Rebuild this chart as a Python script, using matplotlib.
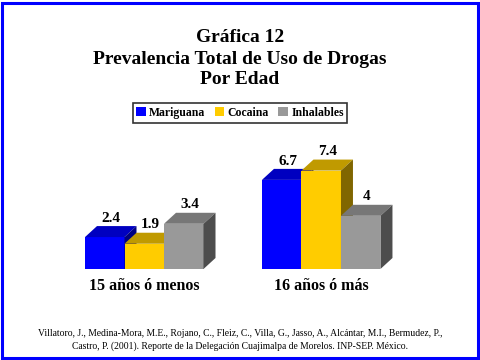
import matplotlib
matplotlib.use("Agg")
import matplotlib.pyplot as plt
from matplotlib.patches import Polygon, Rectangle, Patch

# -- Data ----------------------------------------------------------------------
groups = ["15 años ó menos", "16 años ó más"]
drugs = ["Mariguana", "Cocaina", "Inhalables"]
mariguana = [2.4, 6.7]
cocaina = [1.9, 7.4]
inhalables = [3.4, 4]
value_labels = [["2.4", "1.9", "3.4"], ["6.7", "7.4", "4"]]

# front, top, side shades per series
colors = {
    "Mariguana": ("#0000ff", "#0000c0", "#000080"),
    "Cocaina": ("#ffcc00", "#c09a00", "#806600"),
    "Inhalables": ("#999999", "#777777", "#4d4d4d"),
}

SERIF = ["Liberation Serif", "DejaVu Serif"]

fig = plt.figure(figsize=(4.8, 3.6), dpi=100)

# axes placed so that 1 x-unit = one bar width (~39.5 px), y ~ 13.3 px per unit
px_x = 39.5
px_y = 13.3
ax_left, ax_w = 60, 360
ax_bot, ax_h = 91, 150
ax = fig.add_axes([ax_left / 480, ax_bot / 360, ax_w / 480, ax_h / 360])
x0 = -0.5 - 25 / px_x
ax.set_xlim(x0, x0 + ax_w / px_x)
ax.set_ylim(0, ax_h / px_y)
ax.axis("off")

dx = 12 / px_x   # depth offset in data units
dy = 11 / px_y

series = [mariguana, cocaina, inhalables]
group_offset = 4.48

for g, group in enumerate(groups):
    for i, drug in enumerate(drugs):
        val = series[i][g]
        left = g * group_offset + i - 0.5
        right = left + 1
        front, top, side = colors[drug]
        ax.add_patch(Rectangle((left, 0), 1, val, facecolor=front, edgecolor="none"))
        ax.add_patch(Polygon([(left, val), (right, val), (right + dx, val + dy), (left + dx, val + dy)],
                             closed=True, facecolor=top, edgecolor="none"))
        ax.add_patch(Polygon([(right, 0), (right + dx, dy), (right + dx, val + dy), (right, val)],
                             closed=True, facecolor=side, edgecolor="none"))
        ax.text(left + 0.5 + dx / 2, val + dy + 0.1, value_labels[g][i],
                ha="center", va="bottom", fontsize=11, fontweight="bold", family=SERIF)
    center = g * group_offset + 1
    ax.text(center, -0.7, group, ha="center", va="top", fontsize=11.5,
            fontweight="bold", family=SERIF, clip_on=False)

# -- Title ---------------------------------------------------------------------
title_lines = ["Gráfica 12", "Prevalencia Total de Uso de Drogas", "Por Edad"]
for k, line in enumerate(title_lines):
    fig.text(0.5, 1 - (38 + 21 * k) / 360, line, ha="center", va="center",
             fontsize=14, fontweight="bold", family=SERIF)

# -- Legend --------------------------------------------------------------------
handles = [Patch(facecolor=colors[d][0], edgecolor="none") for d in drugs]
leg = fig.legend(handles, drugs, loc="center", bbox_to_anchor=(0.5, 1 - 113 / 360),
                 ncol=3, frameon=True, fancybox=False, handlelength=0.8,
                 handleheight=0.8, handletextpad=0.3, columnspacing=0.8,
                 borderpad=0.3, prop={"family": SERIF, "weight": "bold", "size": 8.5})
leg.get_frame().set_edgecolor("black")
leg.get_frame().set_linewidth(1.2)

# -- Citation ------------------------------------------------------------------
cite = ["Villatoro, J., Medina-Mora, M.E., Rojano, C., Fleiz, C., Villa, G., Jasso, A., Alcántar, M.I., Bermudez, P.,",
        "Castro, P. (2001). Reporte de la Delegación Cuajimalpa de Morelos. INP-SEP. México."]
for k, line in enumerate(cite):
    fig.text(0.5, 1 - (334 + 12 * k) / 360, line, ha="center", va="center",
             fontsize=6.9, family=SERIF)

# blue frame around the slide
fig.patches.append(Rectangle((1.5 / 480, 2 / 360), 476 / 480, 355.5 / 360,
                             transform=fig.transFigure, fill=False,
                             edgecolor="#0000ff", linewidth=2.2))

fig.savefig("out.png", dpi=100)
